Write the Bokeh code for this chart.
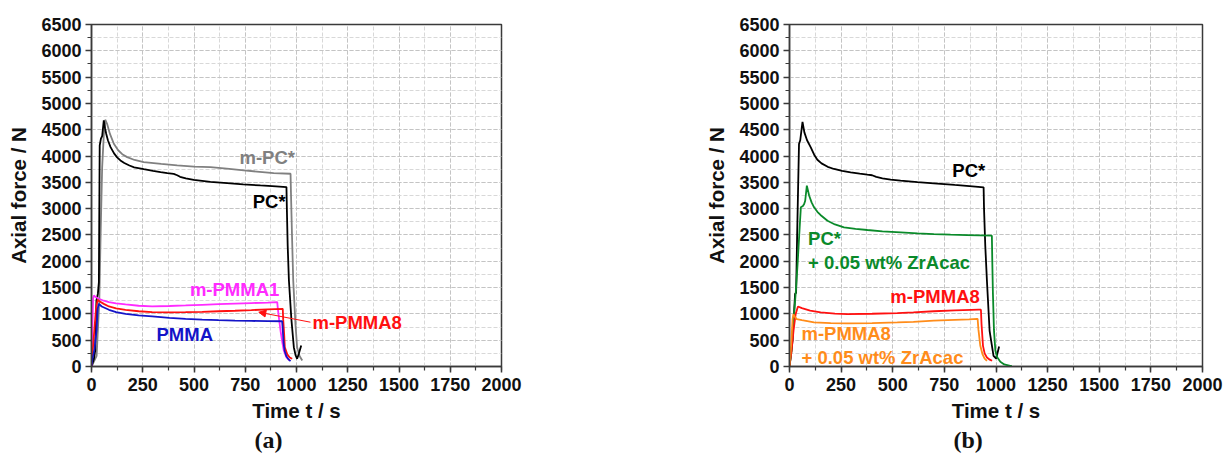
from bokeh.plotting import figure
from bokeh.layouts import row
from bokeh.models import Range1d, SingleIntervalTicker, Label, Arrow, NormalHead, Title
from bokeh.embed import file_html
from bokeh.resources import INLINE

# ---------------- data: axial force (N) vs. time (s) ----------------
# panel (a)
pc_a_t = [0, 12, 18, 24, 31, 36, 40, 46, 52, 60, 66, 72, 80, 93, 110, 125, 141, 160, 185, 208,
          255, 300, 337, 370, 401, 418, 432, 460, 499, 580, 662, 740, 824, 900, 951, 953, 957,
          963, 975, 987, 995, 1003, 1012, 1023]
pc_a_f = [0, 150, 304, 1255, 1380, 1600, 4200, 4330, 4380, 4677, 4530, 4420, 4300, 4170, 4050,
          3975, 3916, 3868, 3820, 3785, 3750, 3718, 3694, 3675, 3660, 3635, 3605, 3575, 3545,
          3510, 3485, 3460, 3441, 3425, 3410, 3000, 2300, 1635, 900, 367, 220, 146, 250, 400]

mpc_a_t = [0, 25, 38, 45, 52, 60, 67, 76, 90, 109, 130, 150, 174, 210, 255, 340, 418, 500, 580,
           660, 743, 820, 889, 971, 973, 978, 984, 995, 1003, 1015, 1028]
mpc_a_f = [0, 200, 1250, 2600, 3790, 4400, 4690, 4613, 4420, 4233, 4110, 4035, 3979, 3925, 3884,
           3850, 3821, 3800, 3789, 3760, 3726, 3700, 3675, 3663, 3300, 2500, 1635, 800, 367, 200,
           114]

mpmma1_a_t = [0, 3, 8, 12, 20, 36, 60, 85, 120, 166, 230, 296, 380, 459, 540, 620, 700, 780, 860,
              906, 909, 915, 922, 930, 938, 950, 967]
mpmma1_a_f = [0, 600, 1300, 1350, 1320, 1287, 1250, 1222, 1200, 1179, 1155, 1141, 1150, 1160,
              1173, 1185, 1195, 1205, 1215, 1222, 1100, 900, 684, 480, 304, 180, 114]

mpmma8_a_t = [0, 10, 22, 30, 36, 60, 85, 120, 166, 230, 296, 380, 459, 540, 620, 700, 780, 860,
              933, 935, 940, 943, 955, 967, 979]
mpmma8_a_f = [0, 500, 1100, 1270, 1245, 1190, 1141, 1105, 1078, 1050, 1033, 1030, 1033, 1040,
              1050, 1060, 1072, 1085, 1097, 900, 600, 367, 230, 170, 146]

pmma_a_t = [0, 5, 15, 25, 30, 36, 50, 85, 120, 166, 230, 296, 380, 459, 540, 620, 700, 780, 860,
            930, 933, 937, 942, 950, 960, 971]
pmma_a_f = [0, 150, 340, 700, 1100, 1192, 1140, 1078, 1035, 1000, 970, 951, 925, 906, 890, 880,
            872, 866, 862, 860, 700, 450, 300, 200, 140, 101]

# panel (b)
pc_b_t = [0, 15, 27, 32, 37, 46, 52, 63, 72, 85, 103, 120, 135, 155, 185, 216, 255, 296, 340,
          377, 400, 420, 450, 490, 538, 620, 699, 800, 900, 940, 942, 948, 956, 969, 988, 1001,
          1008, 1015]
pc_b_f = [0, 500, 1380, 1400, 2500, 4228, 4300, 4650, 4450, 4300, 4166, 4020, 3930, 3860, 3795,
          3754, 3718, 3690, 3665, 3646, 3635, 3605, 3575, 3550, 3532, 3505, 3481, 3450, 3420,
          3405, 3000, 2300, 1635, 678, 203, 152, 266, 380]

pczr_b_t = [0, 10, 20, 31, 40, 50, 55, 65, 71, 76, 84, 95, 107, 119, 135, 150, 184, 220, 264,
            320, 377, 450, 538, 620, 699, 780, 860, 920, 980, 982, 985, 990, 997, 1005, 1021,
            1040, 1069, 1077]
pczr_b_f = [0, 300, 900, 1440, 2000, 2700, 3025, 3050, 3089, 3150, 3437, 3250, 3120, 3025, 2940,
            2880, 2771, 2700, 2644, 2615, 2594, 2570, 2549, 2530, 2517, 2505, 2498, 2492, 2486,
            2000, 1400, 700, 298, 180, 90, 40, 13, 5]

mpmma8_b_t = [0, 10, 20, 30, 41, 60, 100, 151, 220, 280, 400, 522, 600, 699, 800, 880, 916, 927,
              930, 937, 945, 956, 970, 981]
mpmma8_b_f = [0, 300, 700, 1000, 1141, 1110, 1060, 1027, 1005, 996, 1003, 1015, 1030, 1050, 1065,
              1075, 1080, 1080, 800, 393, 250, 171, 130, 108]

mpmma8zr_b_t = [0, 8, 15, 19, 25, 35, 60, 119, 200, 280, 400, 522, 600, 699, 800, 870, 908, 911,
                915, 924, 935, 945, 956]
mpmma8zr_b_f = [0, 400, 900, 996, 950, 901, 880, 837, 825, 818, 825, 837, 850, 870, 885, 895,
                905, 905, 700, 393, 230, 150, 108]

x_label = "Time t / s"
y_label = "Axial force / N"

# colours
BLACK = "#000000"
GREY = "#808080"
MAGENTA = "#ff2bff"
RED = "#ff1010"
BLUE = "#1414c8"
GREEN = "#0a8a2a"
ORANGE = "#ff8c1a"

SANS = "Liberation Sans"
SERIF = "Liberation Serif"


def make_panel(border_left, border_right):
    p = figure(width=612, height=454, x_range=Range1d(0, 2000), y_range=Range1d(0, 6500),
               output_backend="svg", toolbar_location=None,
               min_border_left=border_left, min_border_right=border_right,
               min_border_top=24, min_border_bottom=88)
    p.background_fill_color = "white"
    p.border_fill_color = "white"
    p.outline_line_color = "#3a3a3a"
    p.outline_line_width = 1.5

    p.xaxis.ticker = SingleIntervalTicker(interval=250, num_minor_ticks=2)
    p.yaxis.ticker = SingleIntervalTicker(interval=500, num_minor_ticks=2)
    p.xaxis.axis_label = x_label
    p.yaxis.axis_label = y_label
    for ax in (p.xaxis, p.yaxis):
        ax.axis_line_color = "#3a3a3a"
        ax.axis_line_width = 1.5
        ax.major_tick_line_color = "#3a3a3a"
        ax.minor_tick_line_color = "#3a3a3a"
        ax.major_tick_line_width = 1.5
        ax.minor_tick_line_width = 1.2
        ax.major_tick_out = 6
        ax.major_tick_in = 0
        ax.minor_tick_out = 4
        ax.minor_tick_in = 0
        ax.major_label_text_font = SANS
        ax.major_label_text_font_style = "bold"
        ax.major_label_text_font_size = "18px"
        ax.major_label_text_color = "#111111"
        ax.axis_label_text_font = SANS
        ax.axis_label_text_font_style = "bold"
        ax.axis_label_text_font_size = "20.5px"
        ax.axis_label_text_color = "#111111"
    p.xaxis.major_label_standoff = 5
    p.yaxis.major_label_standoff = 4
    p.xaxis.axis_label_standoff = 5
    p.yaxis.axis_label_standoff = 8

    for g in (p.xgrid, p.ygrid):
        g.grid_line_color = "#c4c4c4"
        g.grid_line_dash = "4 2"
        g.grid_line_width = 1
        g.minor_grid_line_color = "#d8d8d8"
        g.minor_grid_line_dash = "4 2"
        g.minor_grid_line_width = 1
    return p


def note(p, x, y, text, color, align="center", size="18.5px"):
    p.add_layout(Label(x=x, y=y, text=text, text_color=color, text_font=SANS,
                       text_font_style="bold", text_font_size=size,
                       text_align=align, text_baseline="middle"))


def caption(p, letter, offset):
    # panel letter placed under the x-axis title
    p.add_layout(Title(text="(" + letter + ")", align="left", offset=offset,
                       text_font=SERIF, text_font_size="24px", text_font_style="bold",
                       text_color="#111111", standoff=0), "below")


LW = 1.8

# ---------------- panel (a) ----------------
pa = make_panel(91, 111)
pa.line(mpc_a_t, mpc_a_f, line_color=GREY, line_width=LW)
pa.line(pc_a_t, pc_a_f, line_color=BLACK, line_width=LW)
pa.line(mpmma1_a_t, mpmma1_a_f, line_color=MAGENTA, line_width=LW)
pa.line(mpmma8_a_t, mpmma8_a_f, line_color=RED, line_width=LW)
pa.line(pmma_a_t, pmma_a_f, line_color=BLUE, line_width=LW)

note(pa, 857, 3968, "m-PC*", GREY)
note(pa, 867, 3139, "PC*", BLACK)
note(pa, 698, 1454, "m-PMMA1", MAGENTA)
note(pa, 1296, 827, "m-PMMA8", RED)
note(pa, 455, 599, "PMMA", BLUE)
pa.add_layout(Arrow(x_start=1068, y_start=842, x_end=816, y_end=1032,
                    line_color=RED, line_width=1,
                    end=NormalHead(size=7, fill_color=RED, line_color=RED)))
caption(pa, "a", 163)

# ---------------- panel (b) ----------------
pb = make_panel(177, 22)
pb.line(pc_b_t, pc_b_f, line_color=BLACK, line_width=LW)
pb.line(pczr_b_t, pczr_b_f, line_color=GREEN, line_width=LW)
pb.line(mpmma8_b_t, mpmma8_b_f, line_color=RED, line_width=LW)
pb.line(mpmma8zr_b_t, mpmma8zr_b_f, line_color=ORANGE, line_width=LW)

note(pb, 868, 3731, "PC*", BLACK)
note(pb, 90, 2436, "PC*", GREEN, align="left")
note(pb, 90, 1973, "+ 0.05 wt% ZrAcac", GREEN, align="left")
note(pb, 705, 1334, "m-PMMA8", RED)
note(pb, 58, 631, "m-PMMA8", ORANGE, align="left")
note(pb, 58, 177, "+ 0.05 wt% ZrAcac", ORANGE, align="left")
caption(pb, "b", 164)

layout = row(pa, pb, spacing=0)
open("out.html", "w").write(file_html(layout, INLINE))
